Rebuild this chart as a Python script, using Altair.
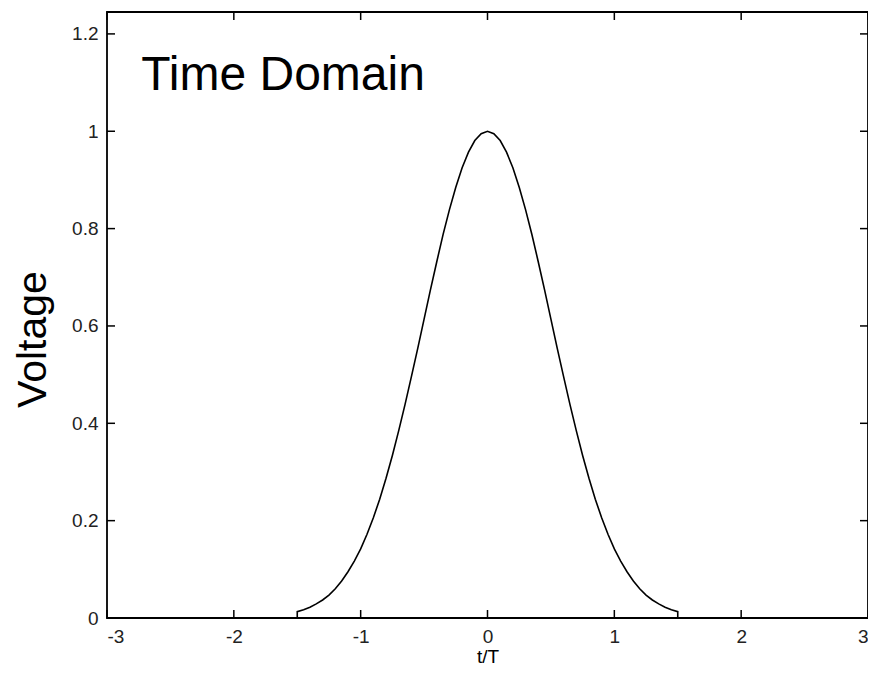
import altair as alt
import pandas as pd

# Pulse (t/T vs Voltage), symmetric about 0
t_vals = [-1.5, -1.5, -1.45, -1.4, -1.35, -1.3, -1.25, -1.2, -1.15, -1.1, -1.05,
          -1.0, -0.95, -0.9, -0.85, -0.8, -0.75, -0.7, -0.65, -0.6, -0.55,
          -0.5, -0.45, -0.4, -0.35, -0.3, -0.25, -0.2, -0.15, -0.1, -0.05,
          0.0, 0.05, 0.1, 0.15, 0.2, 0.25, 0.3, 0.35, 0.4, 0.45,
          0.5, 0.55, 0.6, 0.65, 0.7, 0.75, 0.8, 0.85, 0.9, 0.95,
          1.0, 1.05, 1.1, 1.15, 1.2, 1.25, 1.3, 1.35, 1.4, 1.45, 1.5, 1.5]
v_vals = [0.0, 0.013, 0.017, 0.022, 0.029, 0.037, 0.047, 0.060, 0.076, 0.095, 0.117,
          0.142, 0.172, 0.206, 0.244, 0.287, 0.334, 0.385, 0.439, 0.496, 0.554,
          0.614, 0.674, 0.732, 0.788, 0.839, 0.885, 0.925, 0.957, 0.981, 0.995,
          1.000, 0.995, 0.981, 0.957, 0.925, 0.885, 0.839, 0.788, 0.732, 0.674,
          0.614, 0.554, 0.496, 0.439, 0.385, 0.334, 0.287, 0.244, 0.206, 0.172,
          0.142, 0.117, 0.095, 0.076, 0.060, 0.047, 0.037, 0.029, 0.022, 0.017, 0.013, 0.0]
order = list(range(len(t_vals)))

x_ticks = [-3, -2, -1, 0, 1, 2, 3]
y_ticks = [0, 0.2, 0.4, 0.6, 0.8, 1, 1.2]

annot_text = ["Time Domain"]
annot_x = [-2.73]
annot_y = [1.085]

X_DOMAIN = [-3, 3]
Y_DOMAIN = [0, 1.245]
W, H = 761, 606
FONT = "Liberation Sans"

df = pd.DataFrame({"t": t_vals, "v": v_vals, "o": order})
xt = pd.DataFrame({"x": x_ticks})
yt = pd.DataFrame({"y": y_ticks})
an = pd.DataFrame({"label": annot_text, "x": annot_x, "y": annot_y})

xscale = alt.Scale(domain=X_DOMAIN, nice=False, zero=False)
yscale = alt.Scale(domain=Y_DOMAIN, nice=False, zero=False)

line = alt.Chart(df).mark_line(color="black", strokeWidth=1.6).encode(
    x=alt.X("t:Q", scale=xscale,
            axis=alt.Axis(values=x_ticks, labelExpr="'' + datum.value", tickSize=0,
                          labelPadding=9, grid=False, domain=False,
                          title="t/T", titleFontSize=19, titleFontWeight="normal",
                          titleBaseline="alphabetic", titleY=44, titleColor="black",
                          labelFontSize=19, labelColor="#222", labelFont=FONT, titleFont=FONT)),
    y=alt.Y("v:Q", scale=yscale,
            axis=alt.Axis(values=y_ticks, labelExpr="'' + datum.value", tickSize=0,
                          labelPadding=9, grid=False, domain=False,
                          title="Voltage", titleFontSize=41, titleFontWeight="normal",
                          titleAngle=270, titleBaseline="alphabetic", titleAlign="center",
                          titleX=-62, titleY=327, titleColor="black",
                          labelFontSize=19, labelColor="#222", labelFont=FONT, titleFont=FONT)),
    order="o:Q",
)

tick_style = dict(color="black", strokeWidth=1.5)

xb = alt.Chart(xt).mark_rule(**tick_style).encode(
    x=alt.X("x:Q", scale=xscale), y=alt.value(H), y2=alt.value(H - 8))
xtop = alt.Chart(xt).mark_rule(**tick_style).encode(
    x=alt.X("x:Q", scale=xscale), y=alt.value(0), y2=alt.value(8))
yl = alt.Chart(yt).mark_rule(**tick_style).encode(
    y=alt.Y("y:Q", scale=yscale), x=alt.value(0), x2=alt.value(8))
yr = alt.Chart(yt).mark_rule(**tick_style).encode(
    y=alt.Y("y:Q", scale=yscale), x=alt.value(W), x2=alt.value(W - 8))

txt = alt.Chart(an).mark_text(align="left", baseline="alphabetic", fontSize=48,
                              font=FONT, color="black").encode(
    x=alt.X("x:Q", scale=xscale), y=alt.Y("y:Q", scale=yscale), text="label:N")

chart = alt.layer(line, xb, xtop, yl, yr, txt).properties(
    width=W, height=H,
    background="white",
    autosize=alt.AutoSizeParams(type="none"),
    padding={"left": 99, "top": 4, "right": 0, "bottom": 51},
).configure_view(stroke="black", strokeWidth=1.8)

chart.save("out.html", embed_options={"renderer": "svg", "actions": False})
